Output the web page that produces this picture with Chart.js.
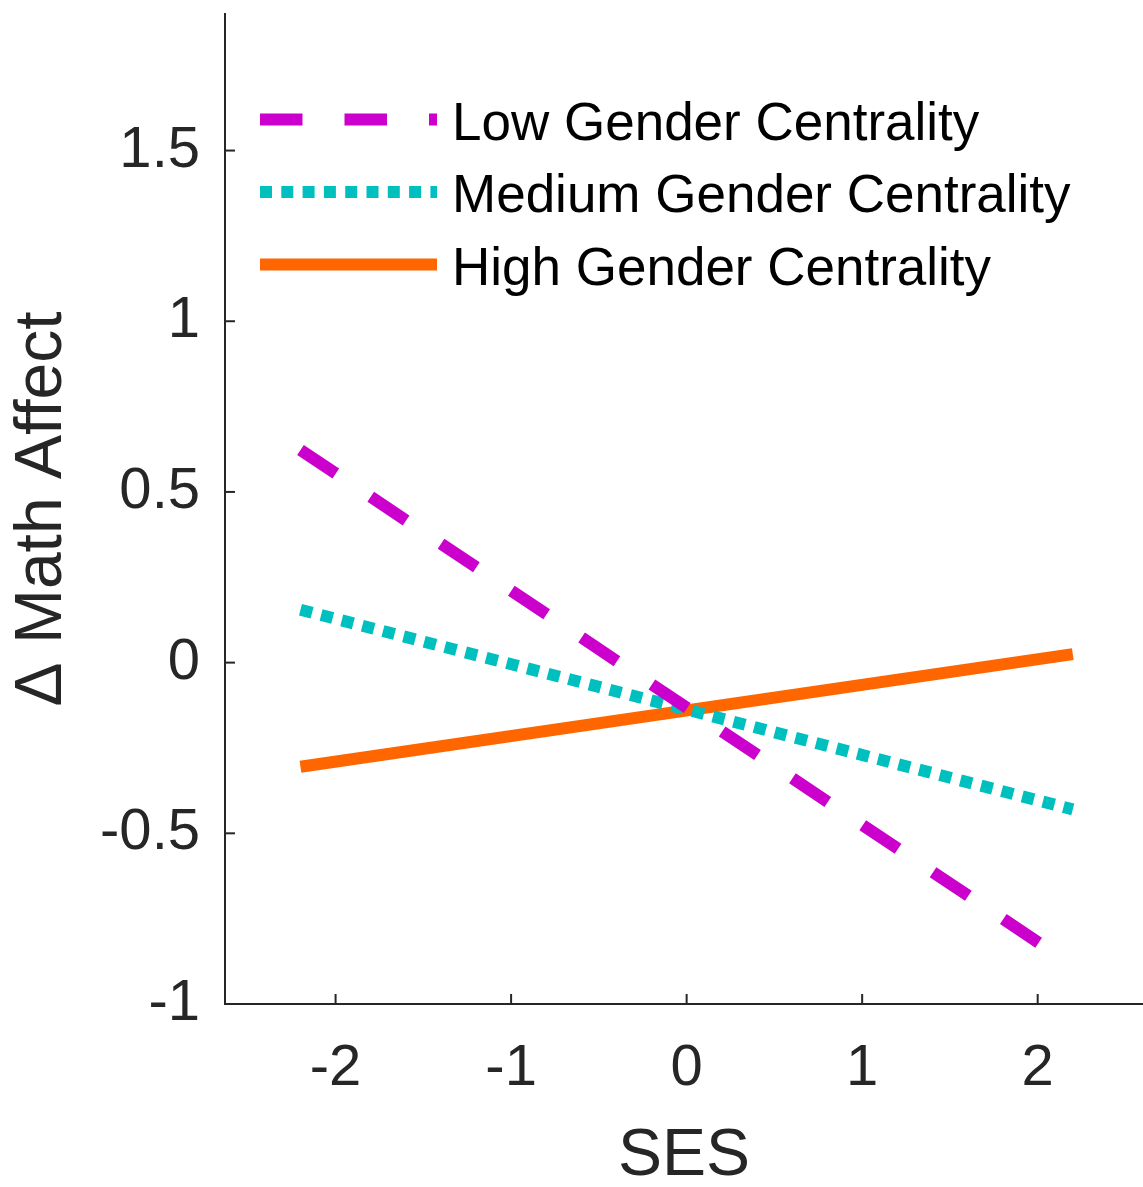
<!DOCTYPE html>
<html>
<head>
<meta charset="utf-8">
<title>Math Affect by SES</title>
<script src="https://cdn.jsdelivr.net/npm/chart.js@4.4.1/dist/chart.umd.min.js"></script>
<style>
  html, body { margin: 0; padding: 0; background: #ffffff; }
  #wrap { width: 1143px; height: 1187px; }
</style>
</head>
<body>
<div id="wrap"><canvas id="affect-chart" width="1143" height="1187"></canvas></div>
<script>
// Values
const sesValues = [-2.2, 2.2];
const lowCentrality = [0.623, -0.887];
const mediumCentrality = [0.155, -0.43];
const highCentrality = [-0.305, 0.025];
const seriesLabels = ["Low Gender Centrality", "Medium Gender Centrality", "High Gender Centrality"];
const xTicks = [-2, -1, 0, 1, 2];
const yTicks = [-1, -0.5, 0, 0.5, 1, 1.5];

const fontFamily = "'Liberation Sans', Arial, Helvetica, sans-serif";
const axisColor = "#262626";

function toPoints(ys) {
  return sesValues.map((x, i) => ({ x: x, y: ys[i] }));
}

// MATLAB style ticks pointing into the plot
const innerTicks = {
  id: "innerTicks",
  afterDraw(chart) {
    const ctx = chart.ctx;
    const area = chart.chartArea;
    ctx.save();
    ctx.strokeStyle = axisColor;
    ctx.lineWidth = 2;
    ctx.setLineDash([]);
    const xs = chart.scales.x;
    xs.ticks.forEach((t) => {
      const px = xs.getPixelForValue(t.value);
      ctx.beginPath();
      ctx.moveTo(px, area.bottom);
      ctx.lineTo(px, area.bottom - 10);
      ctx.stroke();
    });
    const ys = chart.scales.y;
    ys.ticks.forEach((t) => {
      const py = ys.getPixelForValue(t.value);
      ctx.beginPath();
      ctx.moveTo(area.left, py);
      ctx.lineTo(area.left + 10, py);
      ctx.stroke();
    });
    ctx.restore();
  }
};

// Legend inside the plot, top left
const insideLegend = {
  id: "insideLegend",
  afterDraw(chart) {
    const ctx = chart.ctx;
    const lineX = 260, lineLen = 177, textX = 452, firstY = 119.5, rowGap = 72.5;
    ctx.save();
    chart.data.datasets.forEach((ds, i) => {
      const y = firstY + i * rowGap;
      ctx.beginPath();
      ctx.setLineDash(ds.borderDash || []);
      ctx.lineDashOffset = 0;
      ctx.lineCap = "butt";
      ctx.lineWidth = ds.borderWidth;
      ctx.strokeStyle = ds.borderColor;
      ctx.moveTo(lineX, y);
      ctx.lineTo(lineX + lineLen, y);
      ctx.stroke();
      ctx.setLineDash([]);
      ctx.fillStyle = "#000000";
      ctx.font = "53px " + fontFamily;
      ctx.textAlign = "left";
      ctx.textBaseline = "alphabetic";
      ctx.fillText(ds.label, textX, y + 20);
    });
    ctx.restore();
  }
};

const ctx = document.getElementById("affect-chart");

new Chart(ctx, {
  type: "scatter",
  data: {
    datasets: [
      {
        label: seriesLabels[0],
        data: toPoints(lowCentrality),
        showLine: true,
        borderColor: "#cc00cc",
        borderWidth: 12,
        borderDash: [42.5, 42],
        pointRadius: 0,
      },
      {
        label: seriesLabels[1],
        data: toPoints(mediumCentrality),
        showLine: true,
        borderColor: "#00bfbf",
        borderWidth: 12,
        borderDash: [12, 9.3],
        pointRadius: 0,
      },
      {
        label: seriesLabels[2],
        data: toPoints(highCentrality),
        showLine: true,
        borderColor: "#ff6600",
        borderWidth: 12,
        pointRadius: 0,
      }
    ]
  },
  options: {
    responsive: false,
    animation: false,
    devicePixelRatio: 1,
    layout: { padding: { top: 14, right: 0, bottom: 0, left: 0 } },
    plugins: {
      legend: { display: false },
      tooltip: { enabled: false }
    },
    scales: {
      x: {
        type: "linear",
        min: -2.63,
        max: 2.6,
        afterBuildTicks: (scale) => { scale.ticks = xTicks.map((v) => ({ value: v })); },
        afterFit: (scale) => {
          scale.height = 183;
          scale.paddingLeft = 0;
          scale.paddingRight = 0;
        },
        grid: { display: false, drawTicks: false },
        border: { display: true, color: axisColor, width: 2 },
        ticks: {
          padding: 30,
          color: axisColor,
          maxRotation: 0,
          autoSkip: false,
          font: { family: fontFamily, size: 58 },
          callback: (v) => String(v)
        },
        title: {
          display: true,
          text: "SES",
          color: axisColor,
          padding: 0,
          font: { family: fontFamily, size: 66, lineHeight: 0.92 }
        }
      },
      y: {
        type: "linear",
        min: -1,
        max: 1.9,
        afterBuildTicks: (scale) => { scale.ticks = yTicks.map((v) => ({ value: v })); },
        afterFit: (scale) => {
          scale.width = 225;
          scale.paddingTop = 0;
          scale.paddingBottom = 0;
        },
        grid: { display: false, drawTicks: false },
        border: { display: true, color: axisColor, width: 2 },
        ticks: {
          padding: 25,
          color: axisColor,
          autoSkip: false,
          font: { family: fontFamily, size: 58 },
          callback: (v) => String(v)
        },
        title: {
          display: true,
          text: "\u0394 Math Affect",
          color: axisColor,
          padding: { top: 10 },
          font: { family: fontFamily, size: 66, lineHeight: 1 }
        }
      }
    }
  },
  plugins: [innerTicks, insideLegend]
});
</script>
</body>
</html>
